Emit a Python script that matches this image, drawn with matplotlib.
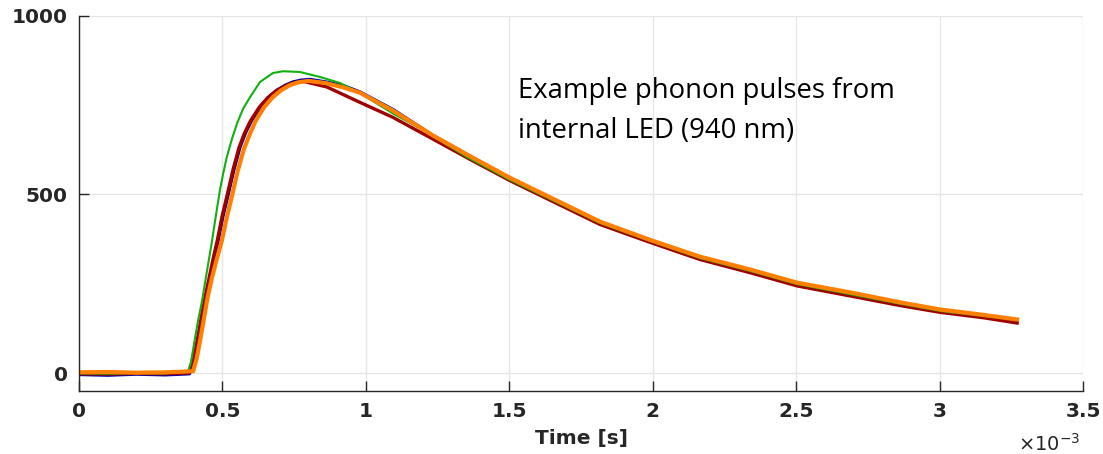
import numpy as np
import matplotlib
matplotlib.use("Agg")
import matplotlib.pyplot as plt

# Pulse traces (time in ms, amplitude in ADC units)
t_blue = [0, 0.1, 0.2, 0.3, 0.385, 0.395, 0.405, 0.418, 0.43, 0.443, 0.455, 0.47, 0.485,
          0.502, 0.52, 0.54, 0.561, 0.58, 0.6, 0.631, 0.66, 0.69, 0.72, 0.746, 0.775, 0.805,
          0.86, 0.92, 0.979, 1.094, 1.234, 1.352, 1.499, 1.642, 1.816,
          1.99, 2.164, 2.339, 2.503, 2.687, 2.862, 3.001, 3.151, 3.27]
y_blue = [-4, -6, -3, -5, -2, 15, 50, 105, 160, 215, 260, 318, 371,
          440, 500, 570, 632, 672, 705, 744, 772, 792, 806, 815, 820, 822,
          815, 805, 787, 738, 665, 612, 547, 490, 422,
          372, 324, 288, 250, 222, 192, 173, 157, 147]

t_red = [0, 0.1, 0.2, 0.3, 0.382, 0.392, 0.402, 0.415, 0.427, 0.44, 0.452, 0.467, 0.482,
         0.499, 0.517, 0.537, 0.558, 0.577, 0.597, 0.628, 0.657, 0.687, 0.717, 0.746, 0.78,
         0.864, 0.92, 0.979, 1.094, 1.234, 1.352, 1.499, 1.642, 1.816,
         1.99, 2.164, 2.339, 2.503, 2.687, 2.862, 3.001, 3.151, 3.27]
y_red = [-2, -3, -1, -2, 0, 15, 50, 105, 160, 215, 260, 318, 371,
         440, 500, 570, 632, 672, 705, 744, 770, 790, 803, 812, 817,
         801, 780, 758, 716, 655, 603, 540, 484, 416,
         366, 318, 281, 244, 216, 189, 170, 155, 140]

t_green = [0, 0.1, 0.2, 0.3, 0.38, 0.39, 0.397, 0.405, 0.415, 0.429, 0.445, 0.464, 0.478,
           0.491, 0.503, 0.515, 0.533, 0.551, 0.572, 0.596, 0.631, 0.676, 0.711, 0.77,
           0.84, 0.91, 0.979, 1.094, 1.189, 1.352, 1.499, 1.642,
           1.816, 1.99, 2.164, 2.339, 2.503, 2.687, 2.862, 3.001, 3.151, 3.27]
y_green = [-1, -2, 0, -1, 5, 30, 62, 100, 146, 202, 280, 371, 445,
           511, 560, 604, 655, 699, 740, 772, 815, 840, 845, 843,
           829, 812, 784, 727, 685, 605, 542, 487,
           420, 370, 322, 286, 249, 221, 194, 174, 160, 148]

t_orange = [0, 0.1, 0.2, 0.3, 0.398, 0.41, 0.422, 0.435, 0.448, 0.463, 0.48, 0.498, 0.515,
            0.533, 0.553, 0.574, 0.595, 0.615, 0.645, 0.675, 0.705, 0.735, 0.765, 0.8,
            0.86, 0.92, 0.979, 1.094, 1.234, 1.352, 1.499, 1.642,
            1.816, 1.99, 2.164, 2.339, 2.503, 2.687, 2.862, 3.001, 3.151, 3.27]
y_orange = [2, 3, 1, 2, 5, 40, 90, 150, 210, 265, 318, 371, 435,
            495, 565, 625, 668, 705, 744, 772, 792, 806, 814, 818,
            812, 800, 785, 735, 665, 612, 548, 492,
            424, 373, 326, 290, 253, 226, 198, 178, 163, 150]

x_ticks = [0, 0.5, 1, 1.5, 2, 2.5, 3, 3.5]
x_tick_labels = ["0", "0.5", "1", "1.5", "2", "2.5", "3", "3.5"]
y_ticks = [0, 500, 1000]

fig = plt.figure(figsize=(11.03, 4.54), dpi=100)
ax = fig.add_axes([0.0716, 0.139, 0.9104, 0.826])

ax.plot(np.array(t_blue) * 1e-3, y_blue, color="#0000a8", lw=2.4, solid_joinstyle="round")
ax.plot(np.array(t_red) * 1e-3, y_red, color="#a00000", lw=2.4, solid_joinstyle="round")
ax.plot(np.array(t_green) * 1e-3, y_green, color="#10b010", lw=1.5, solid_joinstyle="round")
ax.plot(np.array(t_orange) * 1e-3, y_orange, color="#ff8000", lw=3.0, solid_joinstyle="round")

ax.set_xlim(0, 3.5e-3)
ax.set_ylim(-50, 1000)
ax.set_xticks(np.array(x_ticks) * 1e-3)
ax.set_xticklabels(x_tick_labels)
ax.set_yticks(y_ticks)

ax.grid(True, color="#e6e6e6", lw=1.0)
ax.set_axisbelow(True)
for side in ["top", "right"]:
    ax.spines[side].set_visible(False)
for side in ["left", "bottom"]:
    ax.spines[side].set_color("#262626")
    ax.spines[side].set_linewidth(1.0)

ax.tick_params(direction="in", length=7, width=1, colors="#262626",
               labelsize=14.5, pad=8)
for lab in ax.get_xticklabels() + ax.get_yticklabels():
    lab.set_fontweight("bold")
    lab.set_color("#262626")

ax.set_xlabel("Time [s]", fontsize=14.5, fontweight="bold", color="#262626")
ax.xaxis.set_label_coords(0.5, -0.102)
ax.xaxis.label.set_va("top")
fig.text(0.979, 0.006, r"$\times10^{-3}$", ha="right", va="baseline",
         fontsize=14, color="#262626")

ax.text(1.53e-3, 828, "Example phonon pulses from\ninternal LED (940 nm)",
        fontsize=19.8, family="Open Sans", color="black", va="top", ha="left",
        linespacing=1.55)

fig.savefig("out.png", dpi=100)
